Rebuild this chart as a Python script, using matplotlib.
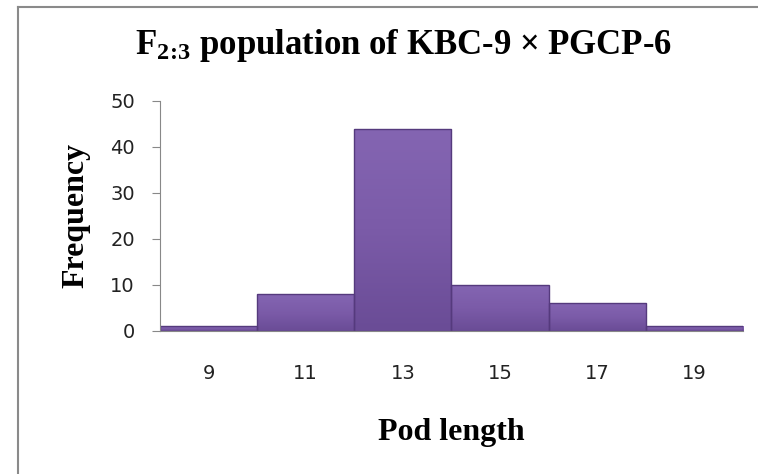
import matplotlib
matplotlib.use("Agg")
import matplotlib.pyplot as plt
import numpy as np
from matplotlib.lines import Line2D
from matplotlib.colors import LinearSegmentedColormap

plt.rcParams['mathtext.fontset'] = 'custom'
plt.rcParams['mathtext.rm'] = 'Liberation Serif:bold'
plt.rcParams['mathtext.it'] = 'Liberation Serif:bold'
plt.rcParams['mathtext.bf'] = 'Liberation Serif:bold'

## data
bin_edges = [8, 10, 12, 14, 16, 18, 20]
freq = [1, 8, 44, 10, 6, 1]
tick_pos = [9, 11, 13, 15, 17, 19]
tick_labels = ['9', '11', '13', '15', '17', '19']

fig = plt.figure(figsize=(7.58, 4.74), dpi=100)
ax = fig.add_axes([0.211, 0.302, 0.769, 0.485])

widths = [bin_edges[i + 1] - bin_edges[i] for i in range(len(freq))]
bars = ax.bar(bin_edges[:-1], freq, width=widths, align='edge',
              color='#7555a1', edgecolor='#553a7d', linewidth=1.0)

# soft vertical shading inside each bar
cmap = LinearSegmentedColormap.from_list('purp', ['#6a4c96', '#7b5ba8', '#8465b2'])
grad = np.linspace(0, 1, 100).reshape(-1, 1)
for b in bars:
    x0, y0 = b.get_x(), b.get_y()
    im = ax.imshow(grad, cmap=cmap, origin='lower', aspect='auto',
                   extent=[x0, x0 + b.get_width(), y0, y0 + b.get_height()], zorder=1.5)
    im.set_clip_path(b)
    b.set_zorder(2)
    b.set_facecolor('none')

ax.set_xlim(8, 20)
ax.set_ylim(0, 50)
ax.set_yticks(range(0, 51, 10))
ax.set_xticks(tick_pos)
ax.set_xticklabels(tick_labels)
ax.tick_params(axis='x', length=0, pad=24, labelsize=14, colors='#222222')
ax.tick_params(axis='y', length=6, color='#888888', labelsize=14, colors='#222222', pad=12)
for s in ['top', 'right']:
    ax.spines[s].set_visible(False)
ax.spines['left'].set_color('#888888')
ax.spines['bottom'].set_color('#888888')
ax.spines['left'].set_zorder(3)
ax.spines['bottom'].set_zorder(3)

ax.set_ylabel('Frequency', fontsize=23, fontweight='bold', family='Liberation Serif', labelpad=14)
ax.set_xlabel('Pod length', fontsize=23, fontweight='bold', family='Liberation Serif', labelpad=25)

fig.text(0.532, 0.905, r'$F_{2\!:\!3}$ population of KBC-9 × PGCP-6', ha='center', va='center',
         fontsize=25, fontweight='bold', family='Liberation Serif')

# chart frame
fig.add_artist(Line2D([0.024, 0.024], [0.0, 0.985], color='#8a8a8a', lw=1.5, transform=fig.transFigure))
fig.add_artist(Line2D([0.024, 1.0], [0.985, 0.985], color='#8a8a8a', lw=1.5, transform=fig.transFigure))

plt.savefig('out.png', dpi=100)
plt.close()
